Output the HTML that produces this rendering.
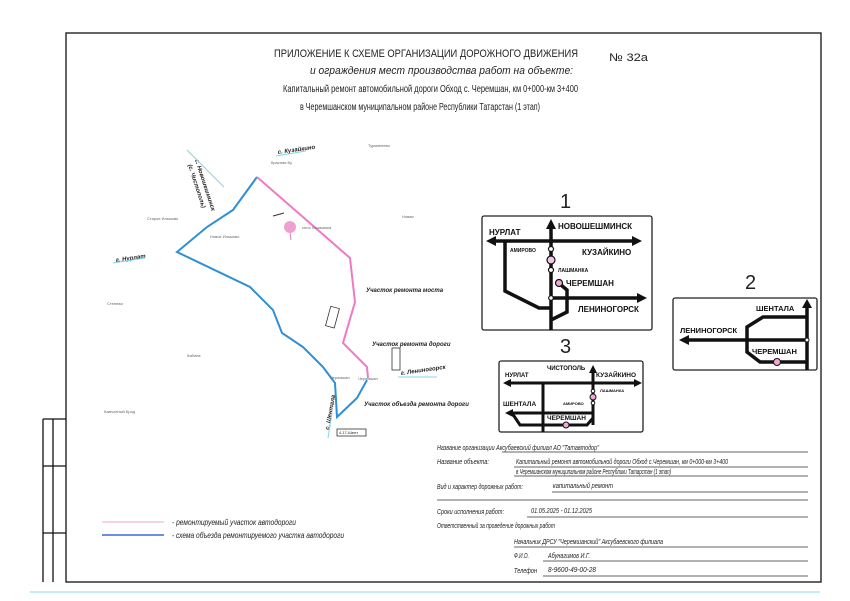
<!DOCTYPE html>
<html><head><meta charset="utf-8"><style>
html,body{margin:0;padding:0;background:#fff;width:850px;height:601px;overflow:hidden}
svg{display:block}
.t{font-family:"Liberation Sans",sans-serif;fill:#222}
.i{font-family:"Liberation Sans",sans-serif;font-style:italic;fill:#222}
.b{font-family:"Liberation Sans",sans-serif;font-weight:bold;fill:#111}
</style></head><body>
<svg width="850" height="601" viewBox="0 0 850 601" xmlns="http://www.w3.org/2000/svg">
<rect x="0" y="0" width="850" height="601" fill="#fff"/>
<!-- frame -->
<g stroke="#111" fill="none" stroke-width="1.3">
<rect x="66" y="33" width="755" height="549"/>
<line x1="43" y1="419" x2="66" y2="419"/>
<line x1="43" y1="466" x2="66" y2="466"/>
<line x1="43" y1="533" x2="66" y2="533"/>
<line x1="43" y1="419" x2="43" y2="582"/>
<line x1="53" y1="419" x2="53" y2="582"/>
</g>
<line x1="30" y1="592" x2="820" y2="592" stroke="#bfeff3" stroke-width="2"/>
<!-- title -->
<text class="t" x="274" y="57" font-size="11" textLength="304" lengthAdjust="spacingAndGlyphs">ПРИЛОЖЕНИЕ К СХЕМЕ ОРГАНИЗАЦИИ ДОРОЖНОГО ДВИЖЕНИЯ</text>
<text class="t" x="609" y="61" font-size="11" textLength="39" lengthAdjust="spacingAndGlyphs">№ 32а</text>
<text class="i" x="310" y="74" font-size="11" textLength="263" lengthAdjust="spacingAndGlyphs">и ограждения мест производства работ на объекте:</text>
<text class="t" x="283" y="92" font-size="10" textLength="295" lengthAdjust="spacingAndGlyphs">Капитальный ремонт автомобильной дороги Обход с. Черемшан, км 0+000-км 3+400</text>
<text class="t" x="300" y="110" font-size="10" textLength="240" lengthAdjust="spacingAndGlyphs">в Черемшанском муниципальном районе Республики Татарстан (1 этап)</text>
<!-- map -->
<polyline points="257,177 233,210 207,227 177,252 250,287 273,310 282,333 303,347 323,367 335,383 337,417 357,398 367,380" fill="none" stroke="#2f8fd6" stroke-width="2"/>
<polyline points="257,177 350,258 355,302 343,343 367,367 368,378" fill="none" stroke="#ee7ac6" stroke-width="2"/>
<circle cx="290" cy="227" r="6" fill="#f0a0d0"/>
<line x1="290" y1="233" x2="291" y2="240" stroke="#e080c0"/>
<line x1="273" y1="216" x2="284" y2="213" stroke="#333"/>
<g font-size="4" class="t" fill="#777">
<text x="302" y="229" fill="#666">село Лашманка</text>
<text x="147" y="220" fill="#666">Старое Ильмово</text>
<text x="210" y="238" fill="#666">Новое Ильмово</text>
<text x="107" y="305" fill="#666">Степная</text>
<text x="187" y="357" fill="#666">Кабина</text>
<text x="104" y="413" fill="#666">Камчатный Брод</text>
<text x="368" y="147" fill="#666">Туркменево</text>
<text x="271" y="164" fill="#666">Красная Бу</text>
<text x="402" y="218" fill="#666">Новая</text>
<text x="330" y="379" fill="#666">Черемшан</text>
<text x="358" y="380" fill="#666">Черемшан</text>
</g>
<g class="i" font-weight="bold" font-size="6" fill="#222">
<text x="278" y="154" transform="rotate(-8 278 154)">с. Кузайкино</text>
<text x="116" y="262" transform="rotate(-8 116 262)">г. Нурлат</text>
<text x="366" y="292">Участок ремонта моста</text>
<text x="372" y="346">Участок ремонта дороги</text>
<text x="364" y="406">Участок объезда ремонта дороги</text>
<text x="401" y="375" transform="rotate(-8 401 375)">г. Лениногорск</text>
<text x="195" y="160" transform="rotate(72 195 160)">с. Новошешминск</text>
<text x="188" y="165" transform="rotate(72 188 165)">(с. Чистополь)</text>
<text x="329" y="430" transform="rotate(-80 329 430)">с. Шентала</text>
</g>
<line x1="113" y1="263" x2="145" y2="258" stroke="#7fd8e8"/>
<line x1="276" y1="156" x2="306" y2="151" stroke="#7fd8e8"/>
<line x1="187" y1="150" x2="224" y2="187" stroke="#7fd8e8"/>
<line x1="398" y1="377" x2="437" y2="377" stroke="#7fd8e8"/>
<line x1="328" y1="438" x2="332" y2="413" stroke="#7fd8e8"/>
<g stroke="#333" fill="#fff" stroke-width="0.8">
<rect x="322" y="313" width="20" height="9" transform="rotate(-75 332 317)"/>
<rect x="385" y="355" width="22" height="8" transform="rotate(-90 396 359)"/>
<rect x="337" y="429" width="29" height="7"/>
</g>
<g class="t" font-size="4"><text x="339" y="434">4.17-Шент</text></g>
<!-- legend -->
<line x1="102" y1="522" x2="164" y2="522" stroke="#f3c3e3" stroke-width="1.5"/>
<line x1="102" y1="535" x2="164" y2="535" stroke="#6b8fe0" stroke-width="2"/>
<text class="i" x="172" y="525" font-size="8" textLength="124" lengthAdjust="spacingAndGlyphs">- ремонтируемый участок автодороги</text>
<text class="i" x="172" y="538" font-size="8" textLength="172" lengthAdjust="spacingAndGlyphs">- схема объезда ремонтируемого участка автодороги</text>
<!-- sign labels -->
<text class="t" x="560" y="208" font-size="20">1</text>
<text class="t" x="745" y="289" font-size="20">2</text>
<text class="t" x="560" y="353" font-size="20">3</text>
<!-- sign 1 -->
<rect x="482" y="216" width="170" height="114" rx="2" fill="#fff" stroke="#222" stroke-width="1.3"/>
<g stroke="#111" stroke-width="3.5" fill="none">
<line x1="551" y1="228" x2="551" y2="330"/>
<line x1="494" y1="241" x2="633" y2="241"/>
<polyline points="505,241 505,291 539,308 551,308"/>
<line x1="551" y1="298" x2="638" y2="298"/>
<polyline points="561,285 567,290 567,312 551,320"/>
</g>
<g fill="#111">
<polygon points="551,219 546,229 556,229"/><polygon points="486,241 496,236 496,246"/>
<polygon points="642,241 632,236 632,246"/><polygon points="647,298 637,293 637,303"/>
</g>
<g stroke="#111" stroke-width="1.2"><circle cx="551" cy="249" r="2.5" fill="#fff"/><circle cx="551" cy="260" r="4" fill="#f3c6e6"/><circle cx="551" cy="270" r="2.5" fill="#fff"/><circle cx="559" cy="283" r="3.5" fill="#f3a6d6"/><circle cx="551" cy="298" r="2.3" fill="#fff"/></g>
<g class="b">
<text x="489" y="235" font-size="8">НУРЛАТ</text>
<text x="558" y="229" font-size="8">НОВОШЕШМИНСК</text>
<text x="510" y="252" font-size="5">АМИРОВО</text>
<text x="582" y="255" font-size="8">КУЗАЙКИНО</text>
<text x="558" y="272" font-size="5">ЛАШМАНКА</text>
<text x="566" y="286" font-size="8">ЧЕРЕМШАН</text>
<text x="578" y="312" font-size="8">ЛЕНИНОГОРСК</text>
</g>
<!-- sign 2 -->
<rect x="673" y="298" width="144" height="72" rx="2" fill="#fff" stroke="#222" stroke-width="1.3"/>
<g stroke="#111" stroke-width="3.5" fill="none">
<line x1="807" y1="307" x2="807" y2="370"/>
<line x1="686" y1="340" x2="807" y2="340"/>
<polyline points="807,317 763,317 747,327 747,352 760,362 807,362"/>
</g>
<g fill="#111"><polygon points="807,299 802,308 812,308"/><polygon points="679,340 689,335 689,345"/></g>
<circle cx="807" cy="340" r="2" fill="#fff" stroke="#111"/>
<circle cx="777" cy="362" r="3.5" fill="#f3a6d6" stroke="#111"/>
<g class="b"><text x="756" y="311" font-size="7.5">ШЕНТАЛА</text><text x="680" y="333" font-size="7.5">ЛЕНИНОГОРСК</text><text x="752" y="354" font-size="7.5">ЧЕРЕМШАН</text></g>
<!-- sign 3 -->
<rect x="499" y="361" width="144" height="71" rx="2" fill="#fff" stroke="#222" stroke-width="1.3"/>
<g stroke="#111" stroke-width="3" fill="none">
<line x1="508" y1="383" x2="638" y2="383"/>
<line x1="543" y1="383" x2="543" y2="432"/>
<line x1="593" y1="372" x2="593" y2="425"/>
<line x1="510" y1="413" x2="593" y2="413"/>
<polyline points="512,413 520,425 587,425 593,418"/>
</g>
<g fill="#111"><polygon points="593,365 589,373 597,373"/><polygon points="503,383 511,379 511,387"/><polygon points="642,383 634,379 634,387"/><polygon points="505,413 513,409 513,417"/></g>
<g stroke="#111" stroke-width="1"><circle cx="593" cy="391" r="1.8" fill="#fff"/><circle cx="593" cy="397" r="3" fill="#f3a6d6"/><circle cx="593" cy="403" r="1.8" fill="#fff"/><circle cx="566" cy="425" r="3" fill="#f3a6d6"/></g>
<g class="b">
<text x="547" y="370" font-size="6">ЧИСТОПОЛЬ</text><text x="505" y="377" font-size="6">НУРЛАТ</text><text x="596" y="377" font-size="6.5">КУЗАЙКИНО</text>
<text x="600" y="392" font-size="4">ЛАШМАНКА</text><text x="563" y="405" font-size="4">АМИРОВО</text><text x="503" y="406" font-size="6.5">ШЕНТАЛА</text><text x="547" y="420" font-size="6.5">ЧЕРЕМШАН</text>
</g>
<!-- info block -->
<g stroke="#333" stroke-width="0.8">
<line x1="502" y1="452" x2="808" y2="452"/>
<line x1="514" y1="467" x2="808" y2="467"/>
<line x1="514" y1="476" x2="808" y2="476"/>
<line x1="552" y1="492" x2="808" y2="492"/>
<line x1="437" y1="500" x2="808" y2="500"/>
<line x1="527" y1="517" x2="808" y2="517"/>
<line x1="514" y1="547" x2="808" y2="547"/>
<line x1="543" y1="561" x2="808" y2="561"/>
<line x1="543" y1="576" x2="808" y2="576"/>
</g>
<g class="i" font-size="7">
<text x="437" y="450" textLength="162" lengthAdjust="spacingAndGlyphs">Название организации Аксубаевский филиал АО "Татавтодор"</text>
<text x="437" y="464" textLength="52" lengthAdjust="spacingAndGlyphs">Название объекта:</text>
<text x="516" y="464" textLength="212" lengthAdjust="spacingAndGlyphs">Капитальный ремонт автомобильной дороги Обход с.Черемшан, км 0+000-км 3+400</text>
<text x="516" y="474" textLength="155" lengthAdjust="spacingAndGlyphs">в Черемшанском муниципальном районе Республики Татарстан (1 этап)</text>
<text x="437" y="489" textLength="86" lengthAdjust="spacingAndGlyphs">Вид и характер дорожных работ:</text>
<text x="553" y="488" textLength="60" lengthAdjust="spacingAndGlyphs">капитальный ремонт</text>
<text x="437" y="514" textLength="67" lengthAdjust="spacingAndGlyphs">Сроки исполнения работ:</text>
<text x="531" y="513" textLength="61" lengthAdjust="spacingAndGlyphs">01.05.2025 - 01.12.2025</text>
<text x="437" y="528" textLength="118" lengthAdjust="spacingAndGlyphs">Ответственный за проведение дорожных работ</text>
<text x="514" y="544" textLength="149" lengthAdjust="spacingAndGlyphs">Начальник ДРСУ "Черемшанский" Аксубаевского филиала</text>
<text x="514" y="558" textLength="15" lengthAdjust="spacingAndGlyphs">Ф.И.О.</text>
<text x="548" y="558" textLength="42" lengthAdjust="spacingAndGlyphs">Абунагимов И.Г.</text>
<text x="514" y="573" textLength="23" lengthAdjust="spacingAndGlyphs">Телефон</text>
<text x="548" y="572" textLength="48" lengthAdjust="spacingAndGlyphs">8-9600-49-00-28</text>
</g>
</svg>
</body></html>
